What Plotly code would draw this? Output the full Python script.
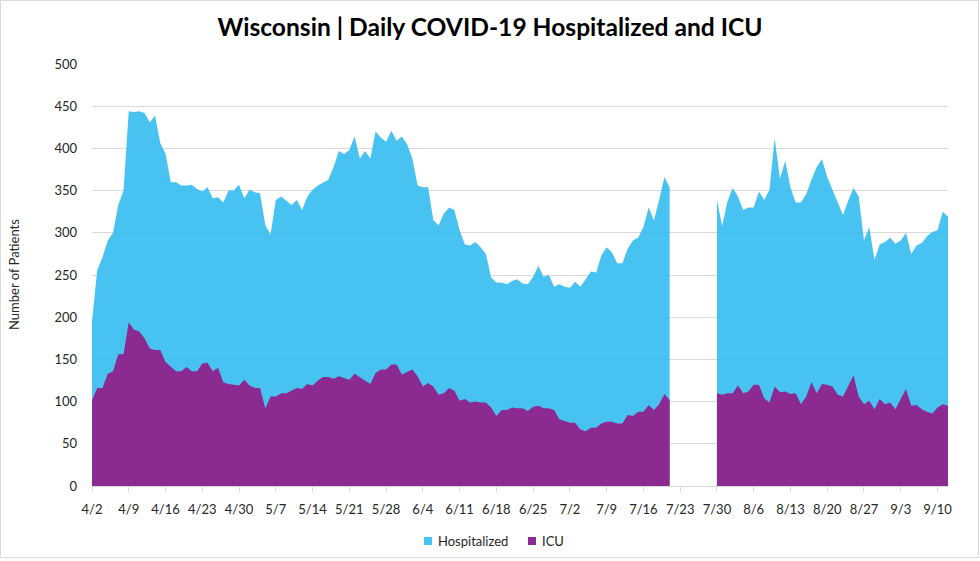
import datetime as dt
import plotly.graph_objects as go

# ---- data ----
start1 = "2020-04-02"   # first segment: 4/2 .. 7/21
start2 = "2020-07-30"   # second segment: 7/30 .. 9/12

hosp_part1 = [195, 256, 271, 291, 300, 333, 350, 444, 443, 444, 442, 431, 439, 406, 394, 360,
              360, 356, 356, 357, 352, 349, 354, 341, 342, 336, 350, 350, 357, 341, 351, 348,
              347, 309, 298, 339, 343, 338, 333, 339, 327, 343, 351, 356, 360, 363, 378, 397,
              393, 398, 414, 388, 397, 388, 420, 413, 408, 421, 409, 414, 405, 388, 356, 354,
              354, 315, 309, 323, 330, 327, 303, 286, 285, 289, 283, 275, 247, 241, 241, 239,
              243, 245, 240, 239, 248, 261, 248, 250, 236, 239, 236, 235, 242, 236, 245, 254,
              253, 273, 283, 277, 264, 264, 281, 291, 294, 307, 330, 315, 339, 366, 354]
icu_part1 = [102, 116, 116, 133, 136, 156, 156, 194, 185, 183, 175, 163, 161, 161, 147, 141,
             136, 136, 141, 136, 136, 145, 146, 136, 140, 123, 121, 120, 119, 126, 119, 116,
             116, 92, 106, 106, 110, 110, 113, 116, 115, 121, 119, 125, 129, 129, 127, 130,
             128, 126, 133, 129, 126, 121, 134, 138, 138, 144, 144, 132, 135, 138, 130, 118,
             122, 118, 108, 110, 116, 113, 101, 103, 99, 100, 99, 99, 93, 83, 90, 90,
             93, 92, 92, 89, 94, 95, 92, 92, 90, 79, 77, 75, 75, 67, 65, 69,
             69, 74, 76, 76, 74, 74, 84, 83, 88, 88, 96, 90, 97, 109, 102]

hosp_part2 = [339, 308, 337, 353, 343, 327, 330, 330, 349, 339, 351, 412, 364, 385, 354, 336,
              336, 346, 363, 378, 387, 366, 351, 336, 321, 338, 353, 343, 291, 307, 268, 286,
              289, 294, 287, 291, 300, 275, 285, 288, 296, 301, 303, 325, 319]
icu_part2 = [110, 108, 110, 110, 119, 110, 112, 120, 120, 104, 99, 118, 111, 112, 109, 110,
             97, 106, 123, 110, 121, 120, 118, 108, 106, 119, 131, 106, 97, 101, 91, 103,
             97, 99, 91, 103, 115, 95, 96, 91, 88, 86, 93, 97, 95]

tick_labels = ["4/2", "4/9", "4/16", "4/23", "4/30", "5/7", "5/14", "5/21", "5/28", "6/4",
               "6/11", "6/18", "6/25", "7/2", "7/9", "7/16", "7/23", "7/30", "8/6", "8/13",
               "8/20", "8/27", "9/3", "9/10"]
series_names = ["Hospitalized", "ICU"]

HOSP_COLOR = "rgba(52,188,240,0.9)"
ICU_COLOR = "rgb(139,42,145)"
TEXT_COLOR = "#262626"

W, H = 980, 561
L, R, T, B = 92, 32, 64, 75
PW, PH = W - L - R, H - T - B


def px(x):
    return (x - L) / PW


def py(y):
    return (H - B - y) / PH


def dates_from(start, n):
    d0 = dt.date.fromisoformat(start)
    return [d0 + dt.timedelta(days=i) for i in range(n)]


x1 = dates_from(start1, len(hosp_part1))
x2 = dates_from(start2, len(hosp_part2))

fig = go.Figure()
for i, (xs, ys) in enumerate([(x1, hosp_part1), (x2, hosp_part2)]):
    fig.add_trace(go.Scatter(x=xs, y=ys, mode="lines", fill="tozeroy",
                             line=dict(width=0, color=HOSP_COLOR), fillcolor=HOSP_COLOR,
                             name=series_names[0], legendgroup="h", showlegend=False,
                             hoverinfo="x+y"))
for i, (xs, ys) in enumerate([(x1, icu_part1), (x2, icu_part2)]):
    fig.add_trace(go.Scatter(x=xs, y=ys, mode="lines", fill="tozeroy",
                             line=dict(width=0, color=ICU_COLOR), fillcolor=ICU_COLOR,
                             name=series_names[1], legendgroup="i", showlegend=False,
                             hoverinfo="x+y"))

tick_dates = dates_from(start1, 7 * len(tick_labels))[::7]
font_family = "Lato, 'Open Sans', sans-serif"

# manual legend (small squares + labels) at the bottom
legend_y = 541
legend_items = [(series_names[0], "rgb(72,196,242)", 424, 436),
                (series_names[1], ICU_COLOR, 528, 540)]
shapes = []
annotations = []
for name, col, sx, tx in legend_items:
    shapes.append(dict(type="rect", xref="paper", yref="paper",
                       x0=px(sx), x1=px(sx + 8), y0=py(legend_y + 4), y1=py(legend_y - 4),
                       fillcolor=col, line=dict(width=0)))
    annotations.append(dict(text=name, xref="paper", yref="paper", x=px(tx), y=py(legend_y),
                            xanchor="left", yanchor="middle", showarrow=False,
                            font=dict(size=13, color=TEXT_COLOR)))

annotations.append(dict(text="Number of Patients", textangle=-90, xref="paper", yref="paper",
                        x=px(14), y=py(275), xanchor="center", yanchor="middle",
                        showarrow=False, font=dict(size=13, color=TEXT_COLOR)))

shapes.append(dict(type="rect", xref="paper", yref="paper",
                   x0=px(0.5), x1=px(978.5), y0=py(557.5), y1=py(0.5),
                   line=dict(color="#D9D9D9", width=1), layer="below"))

fig.update_layout(
    width=W, height=H,
    margin=dict(l=L, r=R, t=T, b=B),
    paper_bgcolor="white", plot_bgcolor="white",
    font=dict(family=font_family, color=TEXT_COLOR, size=13),
    title=dict(text="<b>Wisconsin | Daily COVID-19 Hospitalized and ICU</b>",
               x=0.5, xanchor="center", y=1 - 27.5 / H, yanchor="middle",
               font=dict(size=24.6, color="black", family=font_family)),
    showlegend=False,
    xaxis=dict(type="date", range=[x1[0], x2[-1]],
               tickmode="array", tickvals=tick_dates, ticktext=tick_labels,
               showgrid=False, showline=True, linecolor="#D9D9D9", linewidth=1,
               ticks="outside", ticklen=5, tickcolor="#D9D9D9",
               tickfont=dict(size=13), zeroline=False, ticklabelstandoff=6),
    yaxis=dict(range=[0, 500], dtick=50, showgrid=True, gridcolor="#D9D9D9",
               gridwidth=1, zeroline=False, showline=False,
               tickfont=dict(size=13), ticks="", ticklabelstandoff=14),
    annotations=annotations,
    shapes=shapes,
)

fig.write_html("out.html", config={"displayModeBar": False},
               post_script="document.body.style.margin='0';")
